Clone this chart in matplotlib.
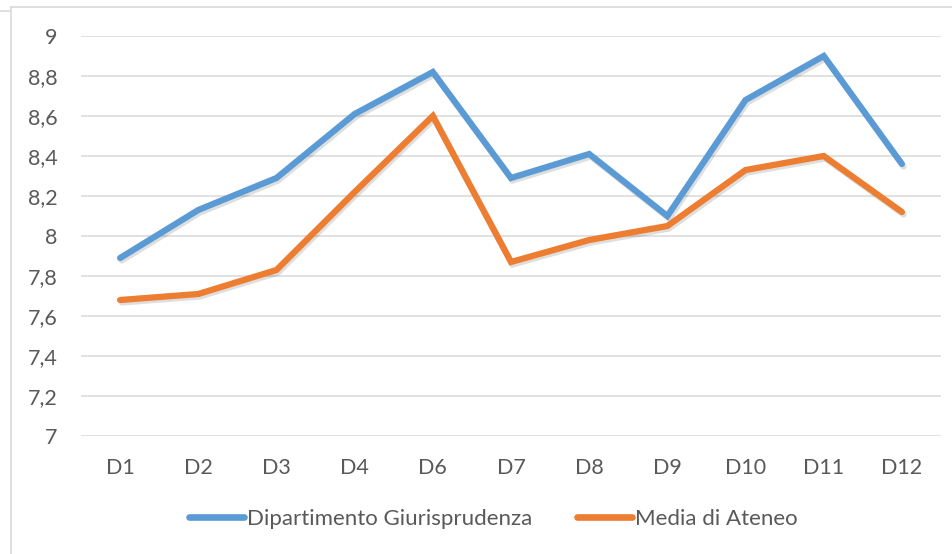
import matplotlib
matplotlib.use("Agg")
import matplotlib.pyplot as plt
import matplotlib.patheffects as pe
from matplotlib.ticker import FixedLocator, FuncFormatter
from matplotlib.lines import Line2D

categories = ["D1", "D2", "D3", "D4", "D6", "D7", "D8", "D9", "D10", "D11", "D12"]
dip_giur = [7.89, 8.13, 8.29, 8.61, 8.82, 8.29, 8.41, 8.10, 8.68, 8.90, 8.36]
media_ateneo = [7.68, 7.71, 7.83, 8.22, 8.60, 7.87, 7.98, 8.05, 8.33, 8.40, 8.12]
series_names = ["Dipartimento Giurisprudenza", "Media di Ateneo"]
y_ticks = [7.0, 7.2, 7.4, 7.6, 7.8, 8.0, 8.2, 8.4, 8.6, 8.8, 9.0]

plt.rcParams['font.family'] = ['Lato', 'DejaVu Sans']
W, H = 952, 554
fig = plt.figure(figsize=(W / 100, H / 100), dpi=100)
fig.patch.set_facecolor("white")

ax = fig.add_axes([81 / W, 1 - 436 / H, (941 - 81) / W, (436 - 36) / H])
x = list(range(len(categories)))
blue = "#5B9BD5"
orange = "#ED7D31"
shadow = [pe.SimpleLineShadow(offset=(1.2, -1.8), shadow_color="black", alpha=0.13, rho=1.0),
          pe.Normal()]
ax.plot(x, dip_giur, color=blue, lw=4.5, solid_capstyle="round", solid_joinstyle="miter",
        path_effects=shadow, zorder=3)
ax.plot(x, media_ateneo, color=orange, lw=4.5, solid_capstyle="round", solid_joinstyle="miter",
        path_effects=shadow, zorder=3)

ax.set_xlim(-0.5, len(categories) - 0.5)
ax.set_ylim(7, 9)
ax.yaxis.set_major_locator(FixedLocator(y_ticks))
ax.yaxis.set_major_formatter(FuncFormatter(lambda v, p: (f"{v:.1f}".rstrip("0").rstrip(".")).replace(".", ",")))
ax.set_xticks(x)
ax.set_xticklabels(categories)
ax.grid(axis="y", color="#D9D9D9", lw=1.1, zorder=0)
for s in ax.spines.values():
    s.set_visible(False)
ax.tick_params(axis="both", length=0, colors="#595959", labelsize=15.5)
ax.tick_params(axis="y", pad=17)
ax.tick_params(axis="x", pad=16)

handles = [Line2D([0], [0], color=blue, lw=4.8, solid_capstyle="round"),
           Line2D([0], [0], color=orange, lw=4.8, solid_capstyle="round")]
leg = fig.legend(handles, series_names, loc="center", bbox_to_anchor=(493 / W, 1 - 519 / H),
                 ncol=2, frameon=False, fontsize=16, handlelength=2.5, handletextpad=0.12,
                 columnspacing=2.0)
for t in leg.get_texts():
    t.set_color("#595959")

# chart area border
fig.add_artist(Line2D([11 / W, 11 / W], [0, 1 - 7 / H], color="#D9D9D9", lw=1.2))
fig.add_artist(Line2D([11 / W, 1], [1 - 7 / H, 1 - 7 / H], color="#D9D9D9", lw=1.2))
fig.add_artist(Line2D([0, 10 / W], [1 - 11 / H, 1 - 11 / H], color="#D9D9D9", lw=1.2))

fig.savefig("out.png", dpi=100, facecolor="white")
